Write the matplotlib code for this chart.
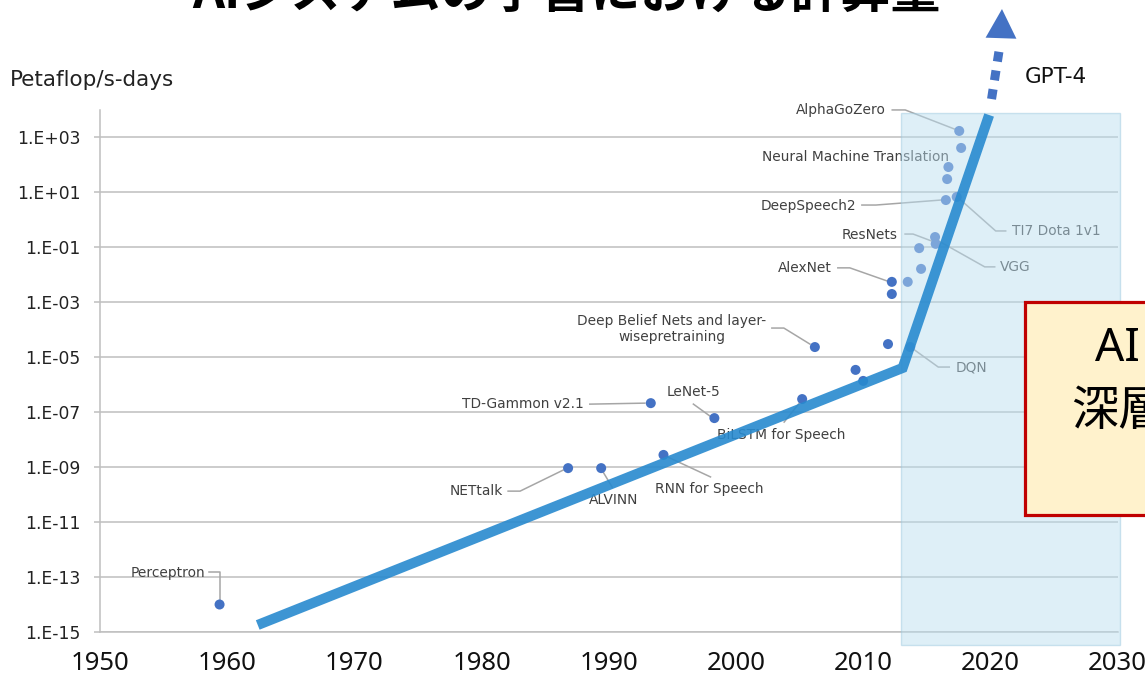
import matplotlib
matplotlib.use('Agg')
import matplotlib.pyplot as plt
from matplotlib.patches import Rectangle
from matplotlib.transforms import Affine2D
from matplotlib.ticker import NullLocator

plt.rcParams['font.family'] = ['DejaVu Sans', 'Noto Sans CJK JP']

# --- data ---
models = ['Perceptron', 'NETtalk', 'ALVINN', 'RNN for Speech', 'TD-Gammon v2.1',
          'LeNet-5', 'BiLSTM for Speech', 'Deep Belief Nets and layer-\nwisepretraining',
          '', '', '', 'DQN', 'AlexNet', '', '', '', '', 'ResNets', 'VGG',
          'DeepSpeech2', 'TI7 Dota 1v1', '', 'Neural Machine Translation', '', 'AlphaGoZero']
years = [1959.4, 1986.8, 1989.4, 1994.3, 1993.3,
         1998.3, 2005.2, 2006.2,
         2009.4, 2010.0, 2011.95, 2013.7, 2012.25, 2012.25, 2013.5, 2014.55, 2014.4,
         2015.65, 2015.7, 2016.5, 2017.35, 2016.6, 2016.7, 2017.7, 2017.55]
compute = [1.0e-14, 9.1e-10, 9.1e-10, 2.75e-9, 2.1e-7,
           6.0e-8, 2.95e-7, 2.3e-5,
           3.4e-6, 1.35e-6, 2.95e-5, 2.3e-5, 5.4e-3, 1.95e-3, 5.4e-3, 1.6e-2, 9.1e-2,
           0.23, 0.13, 5.1, 6.6, 29.5, 81.0, 400.0, 1660.0]

trend_years = [1962.4, 2013.1, 2019.9]
trend_vals = [1.8e-15, 4.0e-6, 6.3e3]
gpt4_years = [2020.09, 2020.69]
gpt4_vals = [2.4e4, 1.45e6]
gpt4_head = [(2020.83, 3.6e6), (2020.91, 4.5e7)]

deep_era = (2013.0, 2030.2)

ytick_exp = list(range(-15, 4, 2))
xticks = list(range(1950, 2031, 10))

# label placement: offset of text from point (px, y up), alignment, leader vertices (px)
label_layout = {
    'Perceptron': (-14, 31, 'right', [(-11, 33), (0, 33), (0, 5)]),
    'NETtalk': (-65, -23, 'right', [(-60, -23), (-48, -23), (-5, -2)]),
    'ALVINN': (12, -32, 'center', [(11, -19), (2, -4)]),
    'RNN for Speech': (46, -34, 'center', [(47, -22), (4, -2)]),
    'TD-Gammon v2.1': (-67, -1, 'right', [(-61, -1), (-6, 0)]),
    'LeNet-5': (-21, 26, 'center', [(-21, 14), (-3, 1)]),
    'BiLSTM for Speech': (-21, -36, 'center', [(-18, -23), (-2, -3)]),
    'Deep Belief Nets and layer-\nwisepretraining': (-143, 18, 'center', [(-43, 19), (-31, 19), (-5, 3)]),
    'DQN': (45, -20, 'left', [(3, -2), (28, -20), (39, -20)]),
    'AlexNet': (-60, 14, 'right', [(-54, 14), (-42, 14), (-5, 1)]),
    'ResNets': (-37, 2, 'right', [(-30, 3), (-22, 3), (2, -6)]),
    'VGG': (64, -23, 'left', [(59, -23), (49, -23), (1, 4)]),
    'DeepSpeech2': (-90, -6, 'right', [(-84, -5), (-70, -5), (-5, 0)]),
    'TI7 Dota 1v1': (55, -34, 'left', [(4, -3), (39, -34), (49, -34)]),
    'Neural Machine Translation': (-93, 10, 'center', []),
    'AlphaGoZero': (-73, 21, 'right', [(-67, 21), (-54, 21), (-5, 2)]),
}

W, H = 1145, 680
fig = plt.figure(figsize=(W / 100, H / 100), dpi=100)
ax = fig.add_axes([100 / W, 48 / H, 1017.6 / W, 522.5 / H])
ax.set_yscale('log')
ax.set_xlim(1950, 2030)
ax.set_ylim(1e-15, 1e4)

grid_c = '#BFBFBF'
ax.set_yticks([10.0 ** e for e in ytick_exp])
ax.set_yticklabels(['1.E{:+03d}'.format(e) for e in ytick_exp])
ax.yaxis.set_minor_locator(NullLocator())
ax.set_xticks(xticks)
ax.tick_params(axis='y', direction='out', length=4, width=1.1, color=grid_c,
               labelsize=12.3, pad=10, labelcolor='#222222')
ax.tick_params(axis='x', length=0, labelsize=18.5, pad=14, labelcolor='#111111')
for t in ax.get_xticklabels():
    t.set_family(['Noto Sans', 'DejaVu Sans'])
ax.yaxis.grid(True, color=grid_c, lw=1.1)
ax.set_axisbelow(True)
for s in ['top', 'right']:
    ax.spines[s].set_visible(False)
for s in ['left', 'bottom']:
    ax.spines[s].set_color(grid_c)
    ax.spines[s].set_linewidth(1.1)

# points
ax.scatter(years, compute, s=52, color='#4472C4', edgecolors='none', zorder=3)

# labels + leader lines
for name, x, y in zip(models, years, compute):
    if not name:
        continue
    dx, dy, ha, leader = label_layout[name]
    ax.annotate(name, (x, y), xytext=(dx, dy), textcoords='offset pixels',
                ha=ha, va='center', fontsize=9.9, color='#404040',
                multialignment='center', zorder=3, annotation_clip=False)
    if leader:
        px, py = ax.transData.transform((x, y))
        ax.plot([p[0] for p in leader], [p[1] for p in leader],
                transform=Affine2D().translate(px, py), color='#A6A6A6',
                lw=1.1, clip_on=False, zorder=2.5)

# deep learning era overlay
ax.add_patch(Rectangle((deep_era[0], 3.4e-16), deep_era[1] - deep_era[0], 7.4e3,
                       facecolor=(186 / 255, 222 / 255, 240 / 255), alpha=0.48,
                       edgecolor='#9CC8DE', lw=1, clip_on=False, zorder=4))

# trend line
ax.plot(trend_years, trend_vals, color='#288ACF', alpha=0.9, lw=7.3,
        solid_capstyle='butt', solid_joinstyle='miter', clip_on=False, zorder=5)
ax.plot(gpt4_years, gpt4_vals, color='#4472C4', lw=6.5, linestyle=(0, (1.1, 1.0)),
        dash_capstyle='butt', clip_on=False, zorder=5)
ax.annotate('', xy=gpt4_head[1], xytext=gpt4_head[0],
            arrowprops=dict(arrowstyle='-|>,head_length=0.7,head_width=0.37',
                            mutation_scale=30, color='#4472C4', lw=0,
                            shrinkA=0, shrinkB=0),
            annotation_clip=False, zorder=5)

fig.text(1025 / W, 1 - 77 / H, 'GPT-4', fontsize=15.5, color='#111111', va='center')
fig.text(10 / W, 1 - 80 / H, 'Petaflop/s-days', fontsize=15.5, color='#222222', va='center')

# title (cut off at the top of the slide)
fig.text(0.495, 1 - 9 / H, 'AIシステムの学習における計算量', ha='center', va='baseline',
         fontsize=36, fontweight='bold', color='black',
         family=['Noto Sans CJK JP', 'DejaVu Sans'])

# callout box on the right (cut off)
fig.add_artist(Rectangle((1025 / W, 1 - 515 / H), 0.2, 213 / H, transform=fig.transFigure,
                         facecolor='#FFF2CC', edgecolor='#C00000', lw=2.3, zorder=10))
fig.text(1095 / W, 1 - 349 / H, 'AI', fontsize=33, va='center', ha='left', zorder=11,
         family=['Noto Sans', 'DejaVu Sans'])
fig.text(1071 / W, 1 - 412 / H, '深層', fontsize=34, va='center', ha='left', zorder=11,
         family=['Noto Sans CJK JP'])

fig.savefig('out.png', dpi=100)
